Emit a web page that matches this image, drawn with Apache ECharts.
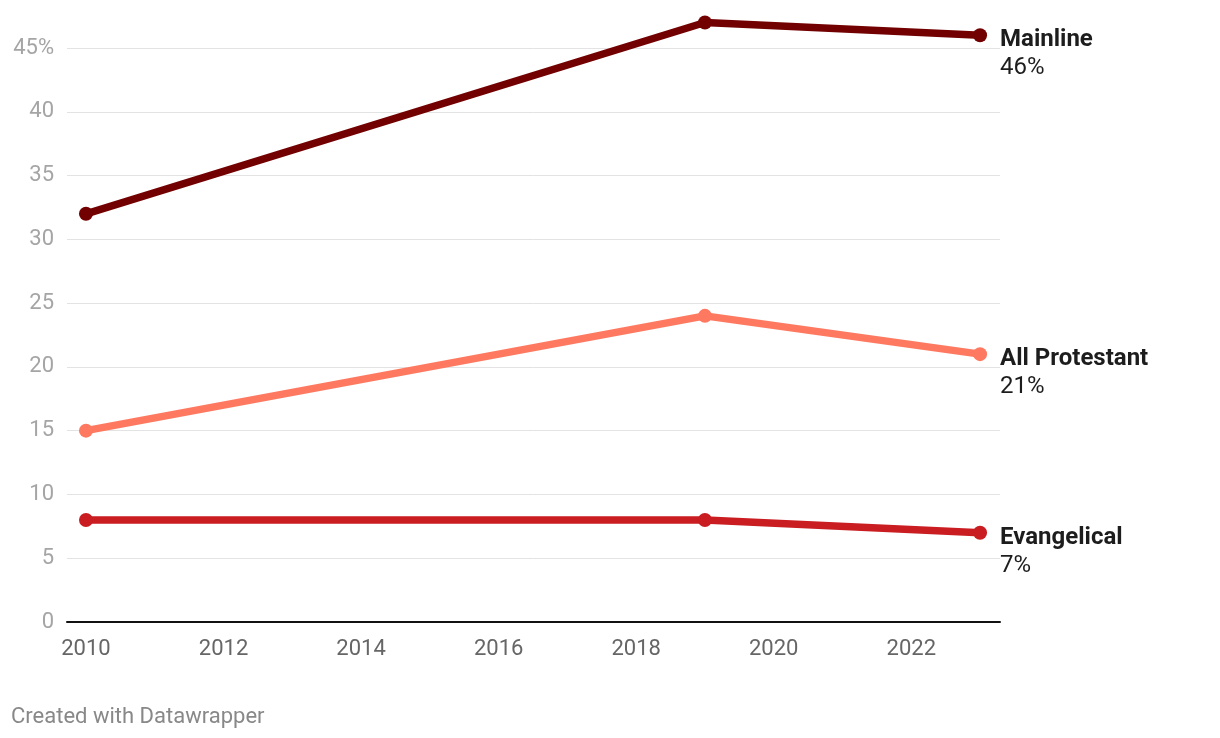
<!DOCTYPE html>
<html><head><meta charset="utf-8">
<script src="https://cdn.jsdelivr.net/npm/echarts@6/dist/echarts.min.js"></script>
<style>html,body{margin:0;padding:0;background:#fff}#c{width:1220px;height:738px}</style>
</head><body><div id="c"></div>
<script>
const years = [2010, 2019, 2023];
const mainline = [32, 47, 46];
const allProtestant = [15, 24, 21];
const evangelical = [8, 8, 7];
const xTickLabels = [2010, 2012, 2014, 2016, 2018, 2020, 2022];
const seriesNames = ['Mainline', 'All Protestant', 'Evangelical'];
const colors = ['#730000', '#ff7961', '#c91d22'];

const chart = echarts.init(document.getElementById('c'), null, {renderer: 'canvas'});
const font = 'Roboto, sans-serif';
function mk(name, vals, color) {
  return {
    name, type: 'line', clip: false,
    data: years.map((y, i) => [y, vals[i]]),
    lineStyle: {color, width: 7.5},
    itemStyle: {color},
    symbol: 'circle', symbolSize: 14, showSymbol: true,
    z: 3,
    endLabel: {
      show: true, distance: 20, offset: [0, 19],
      formatter: p => '{b|' + name + '}\n{v|' + p.value[1] + '%}',
      rich: {
        b: {fontFamily: font, fontSize: 24, fontWeight: 'bold', color: '#1d1d1d', lineHeight: 28},
        v: {fontFamily: font, fontSize: 24, color: '#1d1d1d', lineHeight: 28}
      }
    }
  };
}
chart.setOption({
  animation: false,
  backgroundColor: '#fff',
  grid: {left: 67, right: 220, top: 48, bottom: 116, containLabel: false},
  xAxis: {
    type: 'value', min: 2009.724, max: 2023.29,
    axisLine: {show: true, lineStyle: {color: '#111', width: 2}},
    axisTick: {show: false},
    splitLine: {show: false},
    axisLabel: {
      customValues: xTickLabels, margin: 16,
      fontFamily: font, fontSize: 22, color: '#666',
      formatter: v => String(v)
    }
  },
  yAxis: {
    type: 'value', min: 0, max: 45, interval: 5,
    axisLine: {show: false}, axisTick: {show: false},
    splitLine: {lineStyle: {color: '#e3e3e3', width: 1}},
    axisLabel: {
      margin: 13, fontFamily: font, fontSize: 22, color: '#a5a5a5',
      formatter: v => v === 45 ? '45%' : String(v)
    }
  },
  graphic: [{
    type: 'text', left: 11, top: 706,
    style: {text: 'Created with Datawrapper', fontFamily: font, fontSize: 22, fill: '#888'}
  }],
  series: [
    mk(seriesNames[0], mainline, colors[0]),
    mk(seriesNames[1], allProtestant, colors[1]),
    mk(seriesNames[2], evangelical, colors[2])
  ]
});
</script></body></html>
